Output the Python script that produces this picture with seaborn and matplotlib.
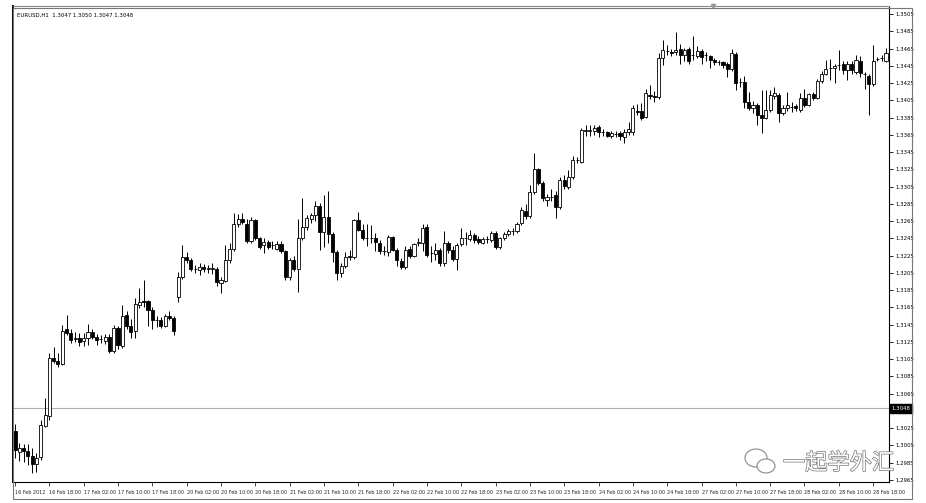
import numpy as np
import pandas as pd
import matplotlib
matplotlib.use("Agg")
import matplotlib.pyplot as plt
import matplotlib.transforms as mtransforms
import matplotlib.patheffects as pe
from matplotlib.patches import Rectangle, Ellipse
import seaborn as sns

# ---------------- data (EURUSD H1) ----------------
opens = [1.3022,1.2998,1.3002,1.2999,1.2993,1.2983,1.2992,1.3028,1.3039,1.3106,
         1.3103,1.3100,1.3140,1.3135,1.3128,1.3130,1.3126,1.3130,1.3137,1.3131,
         1.3128,1.3126,1.3131,1.3115,1.3141,1.3120,1.3156,1.3144,1.3138,1.3168,
         1.3172,1.3172,1.3162,1.3150,1.3151,1.3144,1.3155,1.3153,1.3177,1.3200,
         1.3223,1.3220,1.3210,1.3208,1.3212,1.3210,1.3210,1.3210,1.3193,1.3196,
         1.3220,1.3233,1.3262,1.3268,1.3262,1.3242,1.3266,1.3245,1.3237,1.3241,
         1.3237,1.3233,1.3239,1.3230,1.3200,1.3220,1.3210,1.3245,1.3258,1.3268,
         1.3272,1.3282,1.3252,1.3270,1.3250,1.3229,1.3205,1.3213,1.3225,1.3223,
         1.3266,1.3255,1.3245,1.3245,1.3245,1.3240,1.3230,1.3229,1.3247,1.3232,
         1.3219,1.3212,1.3233,1.3225,1.3240,1.3240,1.3258,1.3228,1.3227,1.3231,
         1.3216,1.3240,1.3232,1.3221,1.3238,1.3245,1.3244,1.3249,1.3244,1.3240,
         1.3244,1.3243,1.3251,1.3235,1.3245,1.3250,1.3253,1.3253,1.3263,1.3277,
         1.3271,1.3299,1.3325,1.3309,1.3290,1.3293,1.3295,1.3281,1.3313,1.3304,
         1.3316,1.3336,1.3334,1.3370,1.3370,1.3369,1.3374,1.3368,1.3368,1.3364,
         1.3366,1.3367,1.3363,1.3368,1.3368,1.3393,1.3393,1.3386,1.3411,1.3410,
         1.3409,1.3454,1.3462,1.3461,1.3461,1.3464,1.3457,1.3465,1.3457,1.3456,
         1.3462,1.3457,1.3456,1.3452,1.3449,1.3449,1.3447,1.3441,1.3459,1.3426,
         1.3426,1.3403,1.3396,1.3399,1.3388,1.3385,1.3394,1.3410,1.3411,1.3390,
         1.3396,1.3397,1.3398,1.3394,1.3408,1.3399,1.3412,1.3408,1.3427,1.3436,
         1.3442,1.3442,1.3446,1.3447,1.3440,1.3447,1.3438,1.3450,1.3435,1.3433,
         1.3424,1.3453,1.3454,1.3451]
highs = [1.3030,1.3008,1.3007,1.3007,1.3002,1.2996,1.3034,1.3060,1.3112,1.3119,
         1.3112,1.3145,1.3156,1.3140,1.3136,1.3135,1.3135,1.3146,1.3140,1.3134,
         1.3133,1.3134,1.3134,1.3145,1.3143,1.3168,1.3161,1.3152,1.3176,1.3188,
         1.3197,1.3174,1.3165,1.3155,1.3154,1.3157,1.3161,1.3155,1.3206,1.3237,
         1.3229,1.3222,1.3214,1.3217,1.3215,1.3214,1.3216,1.3212,1.3200,1.3237,
         1.3240,1.3274,1.3273,1.3274,1.3267,1.3270,1.3268,1.3247,1.3245,1.3243,
         1.3242,1.3242,1.3242,1.3232,1.3222,1.3225,1.3268,1.3292,1.3272,1.3275,
         1.3288,1.3286,1.3295,1.3300,1.3252,1.3231,1.3216,1.3229,1.3231,1.3268,
         1.3276,1.3262,1.3262,1.3261,1.3251,1.3243,1.3236,1.3249,1.3248,1.3234,
         1.3222,1.3236,1.3236,1.3240,1.3245,1.3262,1.3262,1.3236,1.3240,1.3234,
         1.3254,1.3242,1.3236,1.3240,1.3257,1.3252,1.3255,1.3251,1.3248,1.3247,
         1.3248,1.3254,1.3253,1.3247,1.3252,1.3256,1.3257,1.3264,1.3281,1.3285,
         1.3307,1.3344,1.3326,1.3311,1.3297,1.3302,1.3300,1.3316,1.3318,1.3324,
         1.3340,1.3339,1.3373,1.3376,1.3376,1.3376,1.3376,1.3372,1.3370,1.3370,
         1.3370,1.3370,1.3372,1.3380,1.3400,1.3401,1.3402,1.3418,1.3423,1.3416,
         1.3460,1.3475,1.3469,1.3465,1.3484,1.3470,1.3466,1.3467,1.3479,1.3468,
         1.3464,1.3461,1.3458,1.3454,1.3452,1.3451,1.3449,1.3465,1.3461,1.3431,
         1.3433,1.3415,1.3404,1.3402,1.3417,1.3417,1.3417,1.3420,1.3414,1.3400,
         1.3415,1.3403,1.3401,1.3414,1.3418,1.3414,1.3415,1.3430,1.3439,1.3452,
         1.3453,1.3447,1.3463,1.3450,1.3451,1.3450,1.3458,1.3456,1.3438,1.3436,
         1.3469,1.3455,1.3458,1.3466]
lows = [1.2990,1.2987,1.2986,1.2982,1.2973,1.2974,1.2988,1.3026,1.3035,1.3101,
        1.3096,1.3098,1.3133,1.3124,1.3125,1.3120,1.3120,1.3122,1.3128,1.3121,
        1.3124,1.3123,1.3112,1.3112,1.3117,1.3118,1.3140,1.3130,1.3130,1.3164,
        1.3165,1.3143,1.3140,1.3142,1.3141,1.3142,1.3150,1.3133,1.3171,1.3198,
        1.3216,1.3207,1.3205,1.3203,1.3206,1.3205,1.3204,1.3190,1.3182,1.3194,
        1.3216,1.3230,1.3258,1.3262,1.3240,1.3240,1.3243,1.3233,1.3228,1.3233,
        1.3233,1.3232,1.3228,1.3197,1.3197,1.3207,1.3183,1.3243,1.3255,1.3263,
        1.3265,1.3232,1.3235,1.3240,1.3218,1.3197,1.3200,1.3211,1.3220,1.3221,
        1.3254,1.3243,1.3236,1.3240,1.3230,1.3227,1.3226,1.3225,1.3230,1.3213,
        1.3210,1.3210,1.3222,1.3224,1.3236,1.3230,1.3223,1.3218,1.3220,1.3213,
        1.3213,1.3228,1.3219,1.3208,1.3236,1.3237,1.3242,1.3240,1.3239,1.3238,
        1.3240,1.3241,1.3233,1.3233,1.3243,1.3248,1.3249,1.3251,1.3261,1.3268,
        1.3269,1.3297,1.3307,1.3288,1.3282,1.3288,1.3269,1.3279,1.3302,1.3302,
        1.3314,1.3332,1.3332,1.3364,1.3364,1.3365,1.3362,1.3364,1.3362,1.3361,
        1.3362,1.3359,1.3355,1.3365,1.3365,1.3388,1.3382,1.3384,1.3407,1.3403,
        1.3407,1.3446,1.3458,1.3456,1.3458,1.3447,1.3451,1.3447,1.3452,1.3454,
        1.3447,1.3450,1.3443,1.3446,1.3446,1.3443,1.3432,1.3439,1.3417,1.3420,
        1.3396,1.3394,1.3390,1.3376,1.3367,1.3383,1.3392,1.3406,1.3380,1.3388,
        1.3393,1.3392,1.3393,1.3392,1.3397,1.3398,1.3405,1.3406,1.3425,1.3434,
        1.3428,1.3425,1.3440,1.3436,1.3428,1.3435,1.3436,1.3432,1.3418,1.3388,
        1.3422,1.3450,1.3450,1.3449]
closes = [1.3000,1.3002,1.2999,1.2993,1.2983,1.2991,1.3029,1.3040,1.3106,1.3103,
          1.3100,1.3138,1.3135,1.3127,1.3130,1.3125,1.3129,1.3136,1.3131,1.3127,
          1.3128,1.3131,1.3114,1.3141,1.3121,1.3155,1.3144,1.3137,1.3169,1.3171,
          1.3171,1.3162,1.3150,1.3150,1.3144,1.3155,1.3153,1.3138,1.3200,1.3223,
          1.3220,1.3210,1.3209,1.3212,1.3210,1.3210,1.3211,1.3195,1.3197,1.3220,
          1.3233,1.3262,1.3267,1.3264,1.3242,1.3266,1.3245,1.3235,1.3241,1.3235,
          1.3237,1.3239,1.3230,1.3200,1.3220,1.3210,1.3246,1.3258,1.3269,1.3272,
          1.3282,1.3252,1.3270,1.3250,1.3229,1.3205,1.3213,1.3224,1.3223,1.3266,
          1.3255,1.3245,1.3245,1.3245,1.3241,1.3230,1.3230,1.3247,1.3232,1.3220,
          1.3212,1.3232,1.3225,1.3238,1.3240,1.3257,1.3226,1.3228,1.3231,1.3216,
          1.3240,1.3232,1.3221,1.3237,1.3245,1.3245,1.3249,1.3243,1.3241,1.3244,
          1.3244,1.3251,1.3235,1.3245,1.3250,1.3253,1.3253,1.3262,1.3278,1.3271,
          1.3299,1.3325,1.3309,1.3292,1.3293,1.3293,1.3281,1.3313,1.3306,1.3316,
          1.3336,1.3336,1.3371,1.3370,1.3370,1.3373,1.3368,1.3368,1.3364,1.3367,
          1.3366,1.3364,1.3368,1.3372,1.3396,1.3392,1.3385,1.3413,1.3410,1.3409,
          1.3454,1.3463,1.3462,1.3460,1.3463,1.3457,1.3463,1.3451,1.3457,1.3462,
          1.3455,1.3457,1.3452,1.3449,1.3449,1.3446,1.3441,1.3460,1.3425,1.3426,
          1.3403,1.3396,1.3400,1.3388,1.3384,1.3394,1.3411,1.3414,1.3390,1.3396,
          1.3400,1.3397,1.3396,1.3408,1.3399,1.3412,1.3408,1.3427,1.3436,1.3441,
          1.3442,1.3445,1.3446,1.3440,1.3447,1.3440,1.3452,1.3437,1.3435,1.3424,
          1.3450,1.3453,1.3454,1.3460]

time_labels = ["16 Feb 2012", "16 Feb 18:00", "17 Feb 02:00", "17 Feb 10:00", "17 Feb 18:00",
               "20 Feb 02:00", "20 Feb 10:00", "20 Feb 18:00", "21 Feb 02:00", "21 Feb 10:00",
               "21 Feb 18:00", "22 Feb 02:00", "22 Feb 10:00", "22 Feb 18:00", "23 Feb 02:00",
               "23 Feb 10:00", "23 Feb 18:00", "24 Feb 02:00", "24 Feb 10:00", "24 Feb 18:00",
               "27 Feb 02:00", "27 Feb 10:00", "27 Feb 18:00", "28 Feb 02:00", "28 Feb 10:00",
               "28 Feb 18:00"]
label_step = 8
price_ticks = [1.2965, 1.2985, 1.3005, 1.3025, 1.3045, 1.3065, 1.3085, 1.3105, 1.3125,
               1.3145, 1.3165, 1.3185, 1.3205, 1.3225, 1.3245, 1.3265, 1.3285, 1.3305,
               1.3325, 1.3345, 1.3365, 1.3385, 1.3405, 1.3425, 1.3445, 1.3465, 1.3485,
               1.3505]
bid_price = 1.3048
header = "EURUSD,H1  1.3047 1.3050 1.3047 1.3048"
watermark = "一起学外汇"

df = pd.DataFrame({"open": opens, "high": highs, "low": lows, "close": closes})
df["bar"] = np.arange(len(df))
df["bull"] = df["close"] >= df["open"]

# ---------------- figure ----------------
sns.set_theme(style="white")
plt.rcParams['font.family'] = ['DejaVu Sans', 'Noto Sans CJK SC']

W, H = 926, 503
fig = plt.figure(figsize=(W / 100, H / 100), dpi=100)
fig.patch.set_facecolor("white")
ax = fig.add_axes([13 / W, (H - 482) / H, (889 - 13) / W, (482 - 6) / H])
ax.set_facecolor("white")

n = len(df)
ax.set_xlim(-0.47, n - 1 + 0.7)
ax.set_ylim(1.29627, 1.35143)

# bid line
ax.axhline(bid_price, color="#b0b0b0", lw=0.8, zorder=1)

# wicks
ax.vlines(df["bar"], df["low"], df["high"], color="black", lw=0.7, zorder=2)
# bodies
body_bottom = np.minimum(df["open"], df["close"])
body_h = np.maximum(np.abs(df["close"] - df["open"]), 0.00003)
colors = np.where(df["bull"], "white", "black")
ax.bar(df["bar"], body_h, bottom=body_bottom, width=0.72, color=colors,
       edgecolor="black", linewidth=0.6, zorder=3)

# axes styling
for s in ax.spines.values():
    s.set_visible(True)
    s.set_color("black")
    s.set_linewidth(0.8)
ax.spines["left"].set_linewidth(1.4)
ax.spines["top"].set_color("#888888")

ax.yaxis.tick_right()
ax.set_yticks(price_ticks)
# the 1.3045 label is covered by the bid-price box in the original
ax.set_yticklabels(["" if abs(p - 1.3045) < 1e-6 else f"{p:.4f}" for p in price_ticks])
ax.tick_params(axis="y", which="both", right=True, left=False, length=3, width=0.6,
               pad=1.5, labelsize=3.9, colors="black", direction="out")

xt = [i * label_step for i in range(len(time_labels))]
ax.set_xticks(xt)
ax.set_xticklabels(time_labels)
ax.tick_params(axis="x", bottom=True, length=3, width=0.6, pad=2.5,
               labelsize=3.5, direction="out")
for lab in ax.get_xticklabels():
    lab.set_horizontalalignment("left")
ax.grid(False)

# header text
ax.text(0.004, 0.985, header, transform=ax.transAxes, fontsize=3.9,
        va="top", ha="left", color="black")

# bid price box
trans = mtransforms.blended_transform_factory(ax.transAxes, ax.transData)
ax.text(1.003, bid_price, f"{bid_price:.4f}", transform=trans, fontsize=3.9,
        color="white", va="center", ha="left", clip_on=False,
        bbox=dict(boxstyle="square,pad=0.3", fc="black", ec="black"))

# shift marker at top
ax.plot([162.7], [1.0], transform=mtransforms.blended_transform_factory(ax.transData, ax.transAxes),
        marker="v", ms=3, color="#999999", clip_on=False, zorder=5)

# outer window frame
fig.patches.append(Rectangle((13 / W, 4 / H), (912 - 13) / W, (497 - 6) / H,
                             transform=fig.transFigure, fill=False, ec="#777777", lw=0.8))

# watermark
fig.text(783 / W, (H - 463) / H, watermark, fontsize=16, color="white",
         family=["Noto Sans CJK SC"], va="center", ha="left",
         path_effects=[pe.withStroke(linewidth=1.0, foreground="#777777")])
fig.patches.append(Ellipse((756 / W, (H - 458) / H), 22 / W, 18 / H, transform=fig.transFigure,
                           fill=False, ec="#888888", lw=0.8))
fig.patches.append(Ellipse((766 / W, (H - 466) / H), 18 / W, 14 / H, transform=fig.transFigure,
                           fill=True, fc="white", ec="#888888", lw=0.8))

fig.savefig("out.png", dpi=100, facecolor="white")
